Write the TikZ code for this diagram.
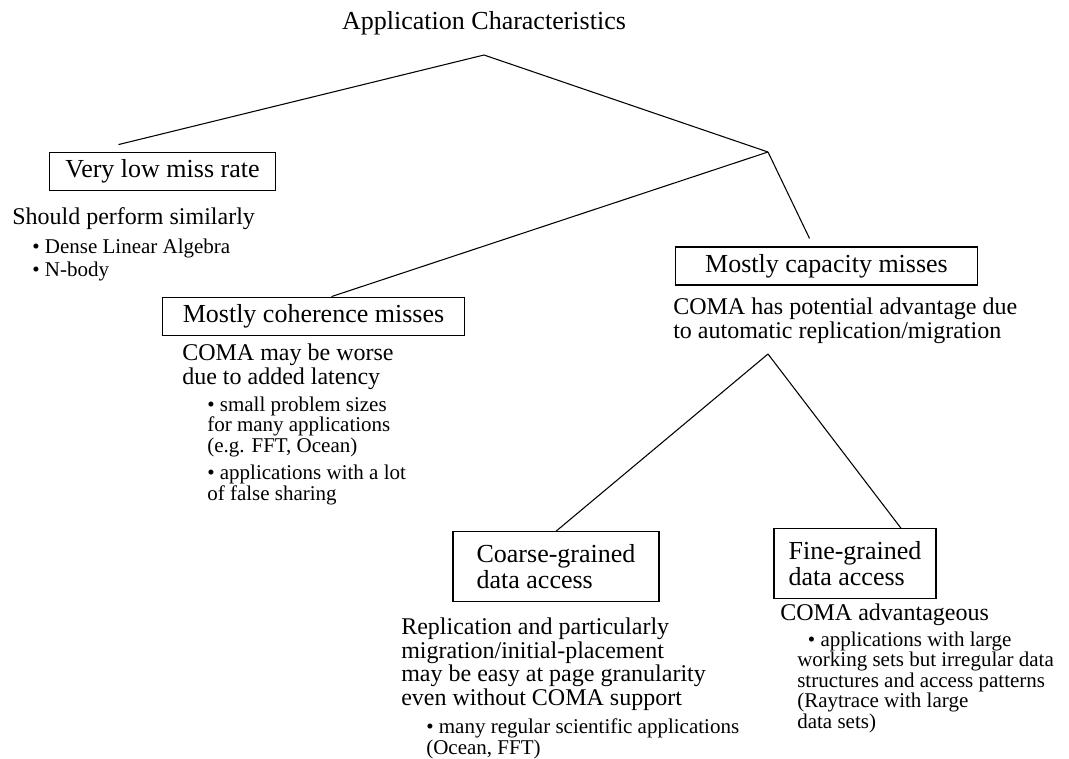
\documentclass[tikz,border=0pt]{standalone}
\usepackage{fontspec}
\setmainfont{Liberation Serif}
\usetikzlibrary{calc,positioning}

\begin{document}
\begin{tikzpicture}[
    x=0.75pt, y=-0.75pt,
    big/.style={font=\fontsize{19.5}{19.5}\selectfont},
    mid/.style={
        font=\fontsize{18}{17.8}\selectfont,
        align=left,
        anchor=north west,
        inner sep=0pt
    },
    small/.style={
        font=\fontsize{15.75}{15.4}\selectfont,
        align=left,
        anchor=north west,
        inner sep=0pt
    },
    box/.style={
        draw,
        big,
        line width=0.9pt,
        align=left,
        inner sep=0pt
    },
    link/.style={line width=0.8pt}
]
    \useasboundingbox (0,0) rectangle (1069,758);

    %% Wurzel
    \node[big, anchor=base, inner sep=0pt] (title) at (484,29) {Application Characteristics};
    \coordinate (root) at (484,55);
    \coordinate (split) at (768,152);
    \coordinate (fork) at (768,354);

    %% Klassen
    \node[box, minimum width=170pt, minimum height=29pt] (lowmiss) at (162.5,171.5) {Very low miss rate};
    \node[box, minimum width=226pt, minimum height=29pt] (coher) at (313.5,316.5) {Mostly coherence misses};
    \node[box, minimum width=226pt, minimum height=28.5pt] (capac) at (826.5,266) {Mostly capacity misses};
    \node[box, minimum width=154.5pt, minimum height=52pt] (coarse) at (556,566.5) {Coarse-grained\\data access};
    \node[box, minimum width=121.5pt, minimum height=52pt] (fine) at (855,563.5) {Fine-grained\\data access};

    %% Beschreibungen
    \node[mid, anchor=base west] (lowtxt) at (12,224) {Should perform similarly};
    \node[small] (lowlist) at (32,238.5) {\textbullet{} Dense Linear Algebra\\[2pt]\textbullet{} N-body};
    \node[mid] (cohertxt) at (182,343.5) {COMA may be worse\\due to added latency};
    \node[small] (coherlist) at (207,396.5) {\textbullet{} small problem sizes\\for many applications\\(e.g. FFT, Ocean)\\[5pt]\textbullet{} applications with a lot\\of false sharing};
    \node[mid] (capactxt) at (673,297.5) {COMA has potential advantage due\\to automatic replication/migration};
    \node[mid] (coarsetxt) at (401,617.5) {Replication and particularly\\migration/initial-placement\\may be easy at page granularity\\even without COMA support};
    \node[small] (coarselist) at (426,718.5) {\textbullet{} many regular scientific applications\\(Ocean, FFT)};
    \node[mid, anchor=base west] (finetxt) at (780,620) {COMA advantageous};
    \node[small] (finelist) at (797,631.5) {\hspace*{8pt}\textbullet{} applications with large\\working sets but irregular data\\structures and access patterns\\(Raytrace with large\\data sets)};

    %% Linien
    \draw[link] ($(lowmiss.north)+(-44,-7)$) -- (root) -- (split);
    \draw[link] (split) -- ($(coher.north)+(18,0)$);
    \draw[link] (split) -- ($(capac.north)+(-17,-8)$);
    \draw[link] (fork) -- (coarse.north);
    \draw[link] (fork) -- ($(fine.north)+(46,0)$);
\end{tikzpicture}
\end{document}
